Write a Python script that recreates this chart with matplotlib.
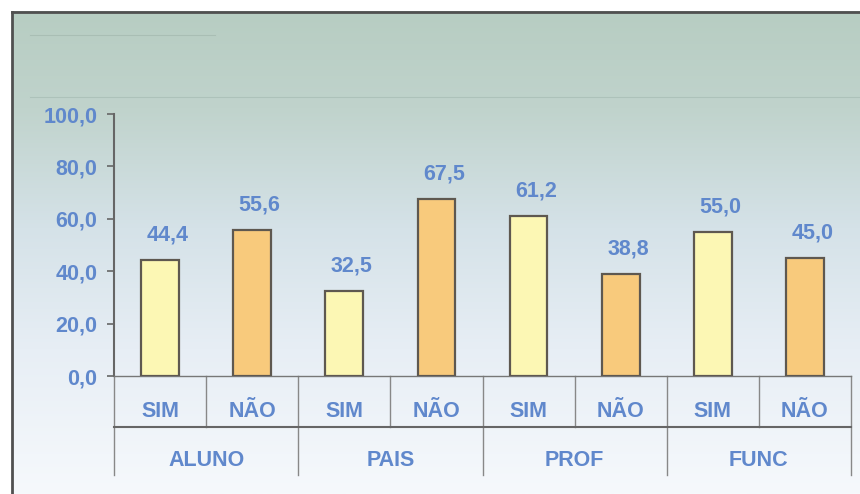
import numpy as np
import matplotlib
matplotlib.use("Agg")
import matplotlib.pyplot as plt
from matplotlib.colors import LinearSegmentedColormap

groups = ["ALUNO", "PAIS", "PROF", "FUNC"]
answers = ["SIM", "NÃO"]
values = [44.4, 55.6, 32.5, 67.5, 61.2, 38.8, 55.0, 45.0]
value_labels = ["44,4", "55,6", "32,5", "67,5", "61,2", "38,8", "55,0", "45,0"]
yticks = [0, 20, 40, 60, 80, 100]
ytick_labels = ["0,0", "20,0", "40,0", "60,0", "80,0", "100,0"]

W, H = 860, 494
fig = plt.figure(figsize=(W / 100, H / 100), dpi=100)
plt.rcParams['font.family'] = ['Liberation Sans', 'DejaVu Sans']

# background gradient
bg = fig.add_axes([0, 0, 1, 1])
bg.set_axis_off()
stops = [(0.0, "#b7cdc2"), (0.2, "#c0d3cc"), (0.45, "#d5e2e8"), (0.7, "#e7eef5"), (1.0, "#f6f9fc")]
cmap = LinearSegmentedColormap.from_list("bgc", stops)
grad = np.linspace(0, 1, 256).reshape(-1, 1)
bg.imshow(grad, cmap=cmap, aspect="auto", extent=[12, W, H, 12])
bg.set_xlim(0, W)
bg.set_ylim(H, 0)
# frame lines
bg.plot([12, W], [12, 12], color="#505050", lw=2)
bg.plot([12, 12], [12, H], color="#505050", lw=2)
bg.plot([30, 215], [35, 35], color="#9fb4aa", lw=0.8, alpha=0.6)
bg.plot([30, W], [97, 97], color="#a3b8b0", lw=0.8, alpha=0.6)

text_color = "#6088cc"
fs = 15.5

left, right, top, bottom = 114, 851, 114, 376
ax = fig.add_axes([left / W, (H - bottom) / H, (right - left) / W, (bottom - top) / H])
ax.patch.set_alpha(0)
n = len(values)
x = np.arange(n) + 0.5
colors = ["#fcf7b4" if i % 2 == 0 else "#f8ca7c" for i in range(n)]
ax.bar(x, values, width=0.41, color=colors, edgecolor="#5e5850", linewidth=1.6, zorder=3)
for xi, v, lab in zip(x, values, value_labels):
    ax.text(xi + 0.08, v + 5.5, lab, ha="center", va="bottom", color=text_color,
            fontsize=fs, fontweight="bold")

ax.set_xlim(0, n)
ax.set_ylim(0, 100)
ax.set_yticks(yticks)
ax.set_yticklabels(ytick_labels, color=text_color, fontsize=fs, fontweight="bold")
ax.tick_params(axis="y", length=5, width=1.2, color="#666666", pad=7)
ax.set_xticks([])
for s in ["top", "right"]:
    ax.spines[s].set_visible(False)
ax.spines["left"].set_color("#666666")
ax.spines["left"].set_linewidth(1.5)
ax.spines["bottom"].set_color("#777777")
ax.spines["bottom"].set_linewidth(1.0)

# category table below axis
tr = ax.get_xaxis_transform()
span = bottom - top
row1 = -(427 - 376) / span
row2 = -(475 - 376) / span
for i in range(n + 1):
    y_end = row2 if i % 2 == 0 else row1
    ax.plot([i, i], [0, y_end], transform=tr, color="#888888", lw=1.0, clip_on=False)
ax.plot([0, n], [row1, row1], transform=tr, color="#666666", lw=1.5, clip_on=False)
for i, xi in enumerate(x):
    ax.text(xi, -(411 - 376) / span, answers[i % 2], transform=tr, ha="center", va="center",
            color=text_color, fontsize=fs, fontweight="bold")
for g, name in enumerate(groups):
    ax.text(2 * g + 1, -(460 - 376) / span, name, transform=tr, ha="center", va="center",
            color=text_color, fontsize=fs, fontweight="bold")

fig.savefig("out.png", dpi=100)
